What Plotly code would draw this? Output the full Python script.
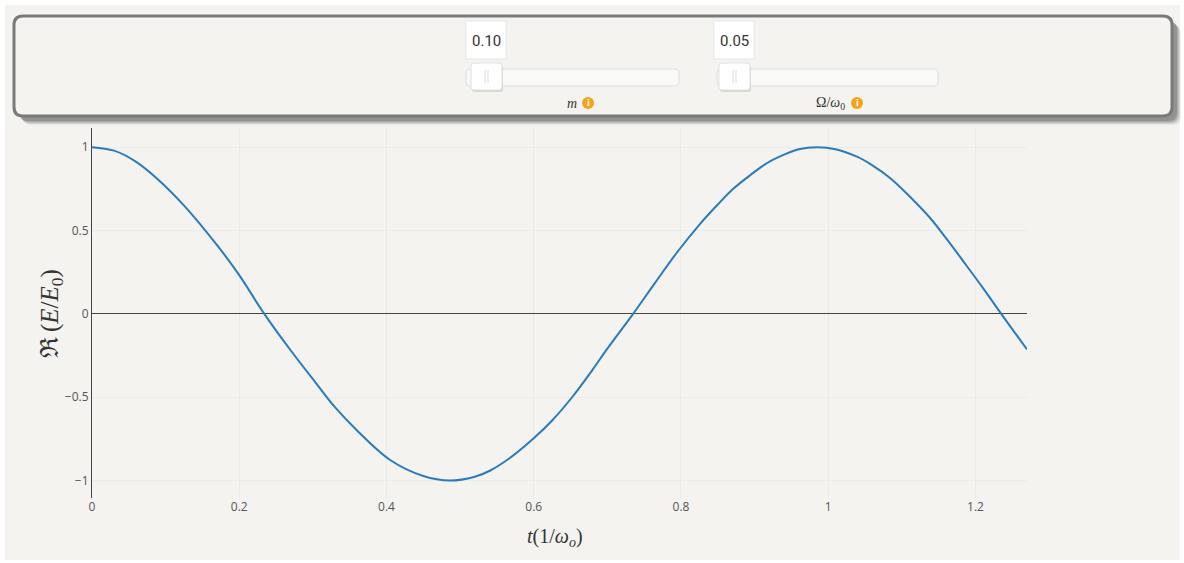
import plotly.graph_objects as go

# ---- data ----
t_vals = [0, 0.03, 0.06, 0.09, 0.126, 0.172, 0.20, 0.234, 0.27, 0.305, 0.33, 0.36, 0.405,
          0.45, 0.486, 0.52, 0.541, 0.57, 0.600, 0.625, 0.654, 0.68, 0.699, 0.735, 0.765,
          0.794, 0.826, 0.85, 0.871, 0.895, 0.917, 0.94, 0.960, 0.985, 1.01, 1.039, 1.06,
          1.084, 1.11, 1.139, 1.16, 1.184, 1.21, 1.235, 1.27]
re_vals = [1.0, 0.979, 0.912, 0.805, 0.645, 0.40, 0.232, 0.0, -0.22, -0.42, -0.56, -0.70,
           -0.877, -0.973, -1.0, -0.977, -0.94, -0.857, -0.747, -0.64, -0.49, -0.335,
           -0.215, 0.0, 0.187, 0.365, 0.54, 0.656, 0.75, 0.835, 0.905, 0.955, 0.988, 1.0,
           0.988, 0.943, 0.891, 0.815, 0.707, 0.572, 0.454, 0.312, 0.156, 0.0, -0.213]
x_ticks = [0, 0.2, 0.4, 0.6, 0.8, 1, 1.2]
y_ticks = [-1, -0.5, 0, 0.5, 1]
slider_labels = ["<i>m</i>", "Ω/<i>ω</i><sub>0</sub>"]
slider_values = ["0.10", "0.05"]

W, H = 1184, 563
L, R, T, B = 92, 157, 128, 65
PW, PH = W - L - R, H - T - B
BG = "#f4f3ef"


def X(px):
    return (px - L) / PW


def Y(py):
    return (H - B - py) / PH


def rrect(x0, y0, x1, y1, r):
    rx, ry = r / PW, r / PH
    a, b, c, d = X(x0), Y(y0), X(x1), Y(y1)  # b top, d bottom (paper y)
    return (f"M {a+rx},{b} L {c-rx},{b} Q {c},{b} {c},{b-ry} L {c},{d+ry} "
            f"Q {c},{d} {c-rx},{d} L {a+rx},{d} Q {a},{d} {a},{d+ry} L {a},{b-ry} "
            f"Q {a},{b} {a+rx},{b} Z")


def note(px, py, text, font, **kw):
    return dict(xref="paper", yref="paper", x=X(px), y=Y(py), text=text, showarrow=False,
                xanchor="center", yanchor="middle", font=font, **kw)


fig = go.Figure()
fig.add_trace(go.Scatter(x=t_vals, y=re_vals, mode="lines",
                         line=dict(color="#2b7bba", width=2, shape="spline", smoothing=1.0),
                         hoverinfo="skip", showlegend=False))

shapes = []
# page background (white frame around)
shapes.append(dict(type="rect", xref="paper", yref="paper", x0=X(5), x1=X(1180), y0=Y(5), y1=Y(560),
                   fillcolor=BG, line=dict(width=0), layer="below"))
# panel shadow
for off, op in [(9, 0.08), (8, 0.12), (7, 0.16), (6, 0.2), (5, 0.25)]:
    shapes.append(dict(type="path", xref="paper", yref="paper",
                       path=rrect(14 + off, 16 + off, 1172 + off, 116 + off, 9),
                       fillcolor=f"rgba(80,80,80,{op})", line=dict(width=0), layer="above"))
# panel
shapes.append(dict(type="path", xref="paper", yref="paper", path=rrect(14, 16, 1172, 116, 9),
                   fillcolor=BG, line=dict(color="#7a7a7a", width=3), layer="above"))

boxes = [(466, 506), (714, 754)]
tracks = [(466, 679), (717, 938)]
handles = [(471, 502), (719, 750)]
label_x = [572, 830]
icon_x = [588, 857]
annotations = []
for k in range(2):
    bx0, bx1 = boxes[k]
    shapes.append(dict(type="rect", xref="paper", yref="paper", x0=X(bx0), x1=X(bx1), y0=Y(21), y1=Y(59),
                       fillcolor="white", line=dict(color="#e6e6e6", width=1), layer="above"))
    annotations.append(note((bx0 + bx1) / 2, 41, slider_values[k],
                            dict(family="Roboto", size=15, color="#333")))
    tx0, tx1 = tracks[k]
    shapes.append(dict(type="path", xref="paper", yref="paper", path=rrect(tx0, 69, tx1, 86, 4),
                       fillcolor="#f9f9f8", line=dict(color="#dddddd", width=1), layer="above"))
    hx0, hx1 = handles[k]
    shapes.append(dict(type="path", xref="paper", yref="paper", path=rrect(hx0 + 1, 65, hx1 + 1, 92, 3),
                       fillcolor="rgba(0,0,0,0.12)", line=dict(width=0), layer="above"))
    shapes.append(dict(type="path", xref="paper", yref="paper", path=rrect(hx0, 63, hx1, 90, 3),
                       fillcolor="white", line=dict(color="#e0e0e0", width=1), layer="above"))
    hc = (hx0 + hx1) / 2
    for dx in (-1.5, 1.5):
        shapes.append(dict(type="line", xref="paper", yref="paper", x0=X(hc + dx), x1=X(hc + dx),
                           y0=Y(70), y1=Y(83), line=dict(color="#dcdcdc", width=1), layer="above"))
    annotations.append(note(label_x[k], 103, slider_labels[k],
                            dict(family="Liberation Serif", size=14, color="#333")))
    shapes.append(dict(type="circle", xref="paper", yref="paper", x0=X(icon_x[k] - 6), x1=X(icon_x[k] + 6),
                       y0=Y(109), y1=Y(97), fillcolor="#f5a31a", line=dict(width=0), layer="above"))
    annotations.append(note(icon_x[k], 103, "<b>i</b>", dict(family="DejaVu Sans", size=8, color="white")))

# axis titles
annotations.append(note(51, 314, "ℜ\u2009(<i>E</i>/<i>E</i><sub>0</sub>)",
                        dict(family="Liberation Serif", size=25, color="#333"), textangle=-90))
annotations.append(note(555, 537, "<i>t</i>(1/<i>ω<sub>o</sub></i>)",
                        dict(family="Liberation Serif", size=20, color="#333")))

fig.update_layout(
    width=W, height=H,
    margin=dict(l=L, r=R, t=T, b=B, pad=0),
    paper_bgcolor="white",
    plot_bgcolor="rgba(0,0,0,0)",
    shapes=shapes,
    annotations=annotations,
    showlegend=False,
    xaxis=dict(range=[0, 1.27], tickvals=x_ticks, ticktext=[str(v) for v in x_ticks],
               showgrid=True, gridcolor="#ebebe8", zeroline=False, showline=False,
               tickfont=dict(family="Open Sans", size=12, color="#555"), ticks="", ticklen=0),
    yaxis=dict(range=[-1.105, 1.115], tickvals=y_ticks,
               ticktext=["−1", "−0.5", "0", "0.5", "1"],
               showgrid=True, gridcolor="#ebebe8", zeroline=True, zerolinecolor="#444",
               zerolinewidth=1, showline=True, linecolor="#444", linewidth=1,
               tickfont=dict(family="Open Sans", size=12, color="#555"), ticks="", ticklen=0),
)

fig.write_html("out.html", config={"displayModeBar": False},
               post_script="document.body.style.margin='0px';")
